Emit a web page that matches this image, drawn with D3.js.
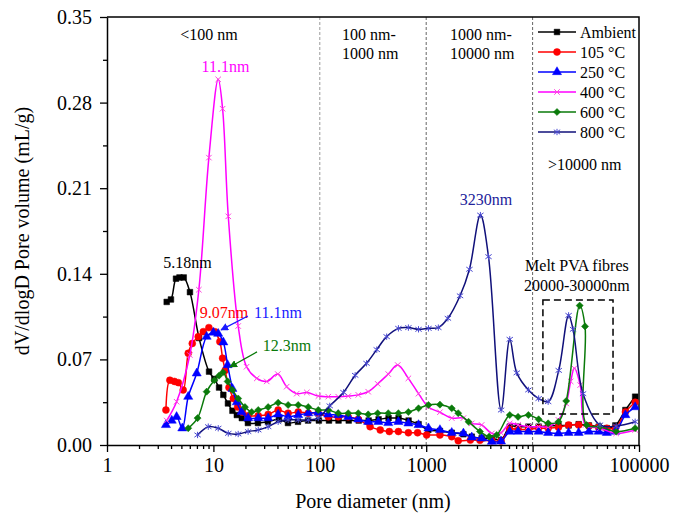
<!DOCTYPE html>
<html>
<head>
<meta charset="utf-8">
<script src="https://cdn.jsdelivr.net/npm/d3@7"></script>
<style>
  body { margin: 0; background: #fff; }
  svg { font-family: "Liberation Serif", "Times New Roman", serif; }
</style>
</head>
<body>
<div id="chart"></div>
<script>
// Pore size distribution: [pore diameter (nm), dV/dlogD (mL/g)]
const ambient = [[3.64,.117],[3.99,.119],[4.45,.136],[4.8,.137],[5.26,.137],[6.02,.125],[7.33,.0875],[9.1,.060],[10.2,.054],[11.3,.047],[12.4,.041],[13.7,.034],[15.1,.028],[16.6,.0245],[18.5,.022],[21.1,.018],[26.2,.018],[32.5,.019],[41.3,.021],[50.2,.018],[62.3,.019],[77.5,.020],[98,.020],[122,.020],[150,.020],[187,.020],[232,.020],[288,.020],[357,.021],[443,.022],[550,.022],[683,.020],[848,.017],[1047,.0123],[1346,.0115],[1738,.010],[2237,.0088],[2680,.0068],[3320,.0055],[4140,.0055],[5050,.0041],[6100,.015],[7300,.015],[9130,.015],[11400,.015],[14000,.0155],[17500,.016],[21800,.016],[27100,.017],[33800,.016],[41800,.015],[49800,.0137],[60000,.016],[74500,.0286],[92000,.0395]];
const t105 = [[3.58,.0286],[3.9,.053],[4.3,.052],[4.68,.051],[5.2,.045],[5.8,.075],[6.33,.083],[7.2,.0886],[8.04,.0927],[9.07,.096],[10.3,.0927],[11.5,.0845],[12.2,.071],[12.9,.061],[14,.047],[15.4,.038],[16.9,.031],[18.7,.027],[21.2,.024],[26.4,.024],[32.7,.025],[40.6,.0286],[50.4,.026],[62.7,.027],[77.9,.026],[96.7,.026],[120,.023],[149,.023],[185,.023],[230,.021],[297,.015],[370,.0123],[450,.011],[548,.011],[680,.010],[830,.010],[1010,.0082],[1346,.0082],[1738,.0068],[2000,.0035],[2600,.004],[3200,.0038],[4140,.0035],[5050,.0033],[6100,.0128],[7300,.0128],[9130,.0128],[11400,.0137],[14000,.0137],[17500,.0145],[21800,.0164],[27100,.0164],[33800,.0155],[41800,.0145],[49800,.0137],[60000,.0137],[74500,.027],[92000,.035]];
const t250 = [[3.58,.0164],[4.06,.020],[4.51,.023],[5.1,.0137],[5.8,.0395],[6.97,.0586],[8.64,.0886],[10.0,.092],[11.1,.091],[12.4,.084],[13.6,.0654],[15.1,.046],[16.6,.035],[18.4,.027],[21.2,.022],[26.4,.022],[32.7,.022],[40.6,.025],[50.4,.023],[62.7,.0245],[77.9,.026],[96.7,.0265],[120,.025],[149,.0245],[185,.023],[230,.021],[285,.019],[355,.019],[440,.018],[548,.019],[680,.0177],[847,.0164],[1050,.0137],[1346,.0123],[1738,.010],[2237,.0095],[2680,.0063],[3320,.0055],[4140,.0027],[5050,.003],[6100,.011],[7300,.011],[9130,.011],[11400,.011],[14000,.010],[17500,.0095],[21800,.010],[27100,.010],[33800,.011],[41800,.011],[49800,.010],[60000,.011],[74500,.0245],[92000,.031]];
const t400 = [[3.64,.020],[4.51,.0354],[6.0,.0736],[7.3,.127],[9.07,.235],[11.1,.299],[12.2,.275],[13.8,.187],[17.1,.0973],[20.5,.064],[25.6,.0545],[31.7,.052],[40.3,.058],[48.8,.0477],[60.7,.042],[75.5,.043],[97,.040],[120,.0395],[149,.0395],[185,.040],[230,.041],[285,.0436],[350,.050],[440,.058],[540,.0654],[680,.0545],[847,.042],[1050,.031],[1346,.0268],[1738,.022],[2237,.022],[2680,.0177],[3320,.0164],[4140,.0095],[5050,.010],[6100,.0177],[7300,.0164],[9130,.015],[11400,.015],[14000,.015],[17500,.0205],[20700,.034],[22800,.052],[24700,.0627],[28000,.049],[31500,.0164],[43000,.0137],[61000,.0095],[92000,.0123]];
const t600 = [[5.8,.0137],[7.1,.022],[8.64,.0436],[10.2,.053],[11.3,.0567],[12.3,.0595],[13.6,.052],[15.1,.045],[17.1,.038],[19.8,.031],[22.9,.027],[26.4,.0286],[32.7,.031],[40.6,.0346],[50.4,.0327],[62.7,.0327],[77.9,.031],[96.7,.0286],[120,.0286],[149,.026],[185,.026],[230,.026],[285,.025],[350,.026],[440,.026],[548,.026],[680,.027],[847,.030],[1050,.0327],[1346,.033],[1738,.030],[2000,.026],[2500,.019],[3200,.011],[3900,.0068],[4600,.0082],[6100,.0245],[7300,.023],[9130,.0245],[11400,.021],[14000,.0177],[17500,.019],[20700,.036],[27700,.114],[31100,.097],[32200,.0164],[43000,.015],[61000,.011],[92000,.0137]];
const t800 = [[7.1,.0082],[8.95,.015],[11.1,.0137],[13.8,.0095],[17.1,.009],[21.2,.011],[26.4,.0123],[32.7,.015],[40.6,.019],[50.4,.0205],[62.7,.0205],[77.9,.0205],[96.7,.022],[124,.032],[167,.043],[215,.057],[275,.0668],[343,.078],[425,.0886],[548,.0954],[680,.096],[847,.0946],[1050,.0954],[1300,.096],[1600,.1036],[2080,.122],[2550,.1437],[3230,.188],[3850,.154],[5060,.0286],[6100,.0864],[7100,.059],[9130,.045],[11400,.038],[14000,.0354],[17600,.061],[21800,.106],[24000,.0946],[29800,.042],[43000,.0164],[61000,.0155],[92000,.019]];

const seriesNames = ["Ambient", "105 °C", "250 °C", "400 °C", "600 °C", "800 °C"];
const seriesData = [ambient, t105, t250, t400, t600, t800];
const xTicks = [1, 10, 100, 1000, 10000, 100000];
const yTicks = [0, 0.07, 0.14, 0.21, 0.28, 0.35];
const rangeBounds = [100, 1000, 10000];

const width = 674, height = 519;
const margin = { top: 17, right: 35, bottom: 74, left: 107 };

// custom marker shapes
const symX = {
  draw(ctx, size) {
    const r = Math.sqrt(size) / 2;
    ctx.moveTo(-r, -r); ctx.lineTo(r, r);
    ctx.moveTo(r, -r); ctx.lineTo(-r, r);
  }
};
const symStar = {
  draw(ctx, size) {
    const r = Math.sqrt(size) / 2;
    ctx.moveTo(0, -r); ctx.lineTo(0, r);
    ctx.moveTo(-r, -r * 0.7); ctx.lineTo(r, r * 0.7);
    ctx.moveTo(r, -r * 0.7); ctx.lineTo(-r, r * 0.7);
  }
};
const symDiamond = {
  draw(ctx, size) {
    const r = Math.sqrt(size) / 2 * 1.3;
    ctx.moveTo(0, -r); ctx.lineTo(r, 0); ctx.lineTo(0, r); ctx.lineTo(-r, 0); ctx.closePath();
  }
};

const styles = [
  { color: "#000000", mark: "#000000", type: d3.symbolSquare, size: 32, filled: true },
  { color: "#ff0000", mark: "#ff0000", type: d3.symbolCircle, size: 38, filled: true },
  { color: "#0000ff", mark: "#0000ff", type: d3.symbolTriangle, size: 36, filled: true },
  { color: "#ff00ff", mark: "#ff44dd", type: symX, size: 30, filled: false },
  { color: "#0a7a0a", mark: "#0a7a0a", type: symDiamond, size: 30, filled: true },
  { color: "#10107a", mark: "#4848d0", type: symStar, size: 40, filled: false }
];

const svg = d3.select("#chart").append("svg")
  .attr("width", width).attr("height", height);

const x = d3.scaleLog().domain([1, 100000]).range([margin.left, width - margin.right]);
const y = d3.scaleLinear().domain([0, 0.35]).range([height - margin.bottom, margin.top]);

// range boundaries
svg.append("g").selectAll("line").data(rangeBounds).join("line")
  .attr("x1", d => x(d)).attr("x2", d => x(d))
  .attr("y1", y(0)).attr("y2", y(0.35))
  .attr("stroke", (d, i) => i === 0 ? "#999" : "#666")
  .attr("stroke-width", 1)
  .attr("stroke-dasharray", "3,2");

// frame (top and right)
svg.append("path")
  .attr("d", `M${x(1)},${y(0.35)}H${x(100000)}V${y(0)}`)
  .attr("fill", "none").attr("stroke", "#000").attr("stroke-width", 1.5);

// x axis
const minorX = [];
for (let p = 0; p < 5; p++) for (let k = 2; k < 10; k++) minorX.push(k * Math.pow(10, p));

svg.append("g").attr("transform", `translate(0,${y(0)})`)
  .call(d3.axisBottom(x).tickValues(xTicks).tickFormat(d3.format("d")).tickSize(7).tickSizeOuter(0).tickPadding(6));
svg.append("g").attr("transform", `translate(0,${y(0)})`)
  .call(d3.axisBottom(x).tickValues(minorX).tickFormat("").tickSize(4).tickSizeOuter(0))
  .select(".domain").remove();

// y axis
const minorY = d3.range(0.035, 0.35, 0.07);
svg.append("g").attr("transform", `translate(${x(1)},0)`)
  .call(d3.axisLeft(y).tickValues(yTicks).tickFormat(d3.format(".2f")).tickSize(7).tickSizeOuter(0).tickPadding(8));
svg.append("g").attr("transform", `translate(${x(1)},0)`)
  .call(d3.axisLeft(y).tickValues(minorY).tickFormat("").tickSize(4).tickSizeOuter(0))
  .select(".domain").remove();

svg.selectAll(".domain").attr("stroke-width", 1.5);
svg.selectAll(".tick line").attr("stroke-width", 1.3);
svg.selectAll(".tick text").attr("font-size", 20).attr("font-family", "Liberation Serif").attr("fill", "#000");

// axis titles
svg.append("text")
  .attr("x", (x(1) + x(100000)) / 2).attr("y", 508)
  .attr("text-anchor", "middle").attr("font-size", 20)
  .text("Pore diameter (nm)");
svg.append("text")
  .attr("transform", `translate(29,${(y(0) + y(0.35)) / 2}) rotate(-90)`)
  .attr("text-anchor", "middle").attr("font-size", 20)
  .text("dV/dlogD Pore volume (mL/g)");

// series
const line = d3.line()
  .x(d => x(d[0])).y(d => y(d[1]))
  .curve(d3.curveCatmullRom.alpha(0.5));

svg.append("clipPath").attr("id", "plot-clip")
  .append("rect").attr("x", x(1)).attr("y", y(0.35))
  .attr("width", x(100000) - x(1)).attr("height", y(0) - y(0.35));

const plot = svg.append("g").attr("clip-path", "url(#plot-clip)");

seriesData.forEach((data, i) => {
  const s = styles[i];
  plot.append("path").datum(data)
    .attr("d", line)
    .attr("fill", "none")
    .attr("stroke", s.color)
    .attr("stroke-width", 1.5);
  plot.append("g").selectAll("path").data(data).join("path")
    .attr("transform", d => `translate(${x(d[0])},${y(d[1])})`)
    .attr("d", d3.symbol().type(s.type).size(s.size))
    .attr("fill", s.filled ? s.mark : "none")
    .attr("stroke", s.mark)
    .attr("stroke-width", s.filled ? 0.5 : 1);
});

// legend
const legend = svg.append("g");
seriesNames.forEach((name, i) => {
  const s = styles[i];
  const ly = 32 + i * 20;
  legend.append("line")
    .attr("x1", 538).attr("x2", 576).attr("y1", ly).attr("y2", ly)
    .attr("stroke", s.color).attr("stroke-width", 1.5);
  legend.append("path")
    .attr("transform", `translate(557,${ly})`)
    .attr("d", d3.symbol().type(s.type).size(s.size))
    .attr("fill", s.filled ? s.mark : "none")
    .attr("stroke", s.mark)
    .attr("stroke-width", s.filled ? 0.5 : 1);
  legend.append("text")
    .attr("x", 580).attr("y", ly + 5.5)
    .attr("font-size", 16)
    .text(name);
});

// region and peak annotations
const notes = [
  { t: "<100 nm", px: 9.1, py: 0.3312, a: "middle", c: "#000" },
  { t: "100 nm-", px: 162, py: 0.3312, a: "start", c: "#000" },
  { t: "1000 nm", px: 162, py: 0.3157, a: "start", c: "#000" },
  { t: "1000 nm-", px: 1675, py: 0.3312, a: "start", c: "#000" },
  { t: "10000 nm", px: 1675, py: 0.3157, a: "start", c: "#000" },
  { t: ">10000 nm", px: 13960, py: 0.2249, a: "start", c: "#000" },
  { t: "11.1nm", px: 13.0, py: 0.305, a: "middle", c: "#ff00ff" },
  { t: "5.18nm", px: 5.71, py: 0.1448, a: "middle", c: "#000" },
  { t: "9.07nm", px: 12.6, py: 0.1039, a: "middle", c: "#ff0000" },
  { t: "11.1nm", px: 40.5, py: 0.1039, a: "middle", c: "#1a1aff" },
  { t: "12.3nm", px: 49.2, py: 0.0769, a: "middle", c: "#0a7a0a" },
  { t: "3230nm", px: 3650, py: 0.1963, a: "middle", c: "#22229a" },
  { t: "Melt PVA fibres", px: 26100, py: 0.1423, a: "middle", c: "#000" },
  { t: "20000-30000nm", px: 26100, py: 0.126, a: "middle", c: "#000" }
];
svg.append("g").selectAll("text").data(notes).join("text")
  .attr("x", d => x(d.px)).attr("y", d => y(d.py))
  .attr("text-anchor", d => d.a)
  .attr("fill", d => d.c)
  .attr("font-size", 16)
  .text(d => d.t);

// arrows to the 250 and 600 °C peaks
const defs = svg.append("defs");
[["blue", "#1a1aff"], ["green", "#0a7a0a"]].forEach(([id, c]) => {
  defs.append("marker").attr("id", "arr-" + id)
    .attr("viewBox", "0 0 10 10").attr("refX", 9).attr("refY", 5)
    .attr("markerWidth", 6).attr("markerHeight", 6).attr("orient", "auto")
    .append("path").attr("d", "M0,0L10,5L0,10Z").attr("fill", c);
});
const arrows = [
  { from: [21.1, 0.1055], to: [11.8, 0.0941], id: "blue", c: "#1a1aff" },
  { from: [25.7, 0.0761], to: [14.3, 0.0638], id: "green", c: "#0a7a0a" }
];
svg.append("g").selectAll("line").data(arrows).join("line")
  .attr("x1", d => x(d.from[0])).attr("y1", d => y(d.from[1]))
  .attr("x2", d => x(d.to[0])).attr("y2", d => y(d.to[1]))
  .attr("stroke", d => d.c).attr("stroke-width", 1.3)
  .attr("marker-end", d => `url(#arr-${d.id})`);

// dashed box around melted PVA fibre peaks
svg.append("rect")
  .attr("x", x(12500)).attr("y", y(0.1186))
  .attr("width", x(57000) - x(12500)).attr("height", y(0.0254) - y(0.1186))
  .attr("fill", "none").attr("stroke", "#000")
  .attr("stroke-width", 1.5).attr("stroke-dasharray", "7,4");
</script>
</body>
</html>
